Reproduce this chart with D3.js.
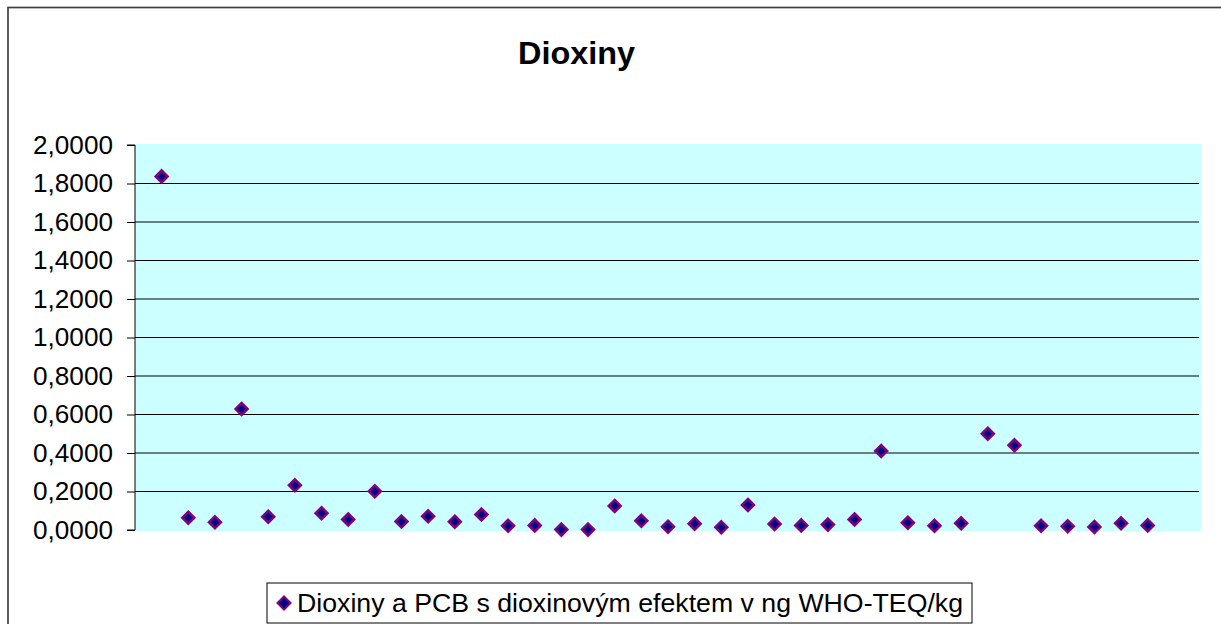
<!DOCTYPE html>
<html lang='cs'>
<head>
    <meta charset='UTF-8'>
    <title>Dioxiny</title>
    <style>
        body { margin: 0; background: #fff; }
        svg { display: block; font-family: Arial, 'Liberation Sans', sans-serif; }
    </style>
</head>
<body>
<div id="chart-area"></div>
<script src='https://d3js.org/d3.v7.min.js'></script>
<script>

    const title = 'Dioxiny';
    const seriesName = 'Dioxiny a PCB s dioxinovým efektem v ng WHO-TEQ/kg';
    // sample numbers 1..38 (x axis is hidden in the original)
    const samples = d3.range(1, 39);
    const values = [
        1.837, 0.064, 0.040, 0.629, 0.069, 0.232, 0.087, 0.055, 0.201, 0.044,
        0.071, 0.043, 0.080, 0.022, 0.024, 0.002, 0.002, 0.125, 0.048, 0.017,
        0.033, 0.014, 0.130, 0.031, 0.024, 0.028, 0.055, 0.410, 0.038, 0.022,
        0.035, 0.500, 0.440, 0.022, 0.019, 0.016, 0.035, 0.024
    ];
    const yTicks = [0, 0.2, 0.4, 0.6, 0.8, 1.0, 1.2, 1.4, 1.6, 1.8, 2.0];

    const outerWidth = 1221;
    const outerHeight = 624;
    const plot = {left: 135, right: 1201, top: 145, bottom: 530};

    const svg = d3.select('#chart-area').append('svg')
        .attr('width', outerWidth)
        .attr('height', outerHeight);

    // chart frame
    svg.append('rect')
        .attr('x', 8).attr('y', 7.5)
        .attr('width', outerWidth + 20).attr('height', outerHeight + 20)
        .attr('fill', '#fff')
        .attr('stroke', '#404040')
        .attr('stroke-width', 1.7);

    const xScale = d3.scaleLinear().domain([0, 40]).range([plot.left, plot.right]);
    const yScale = d3.scaleLinear().domain([0, 2]).range([plot.bottom, plot.top]);

    // plot area
    svg.append('rect')
        .attr('x', plot.left)
        .attr('y', plot.top - 1)
        .attr('width', plot.right - plot.left)
        .attr('height', plot.bottom - plot.top + 2)
        .attr('fill', '#ccffff');

    // gridlines (no line on top edge)
    svg.append('g')
        .selectAll('line')
        .data(yTicks.filter(d => d > 0 && d < 2))
        .join('line')
        .attr('x1', plot.left)
        .attr('x2', plot.right - 2)
        .attr('y1', d => yScale(d))
        .attr('y2', d => yScale(d))
        .attr('stroke', '#000')
        .attr('stroke-width', 1);

    const yAxis = d3.axisLeft(yScale)
        .tickValues(yTicks)
        .tickSize(8)
        .tickPadding(14)
        .tickFormat(d => d3.format('.4f')(d).replace('.', ','));

    const gy = svg.append('g')
        .attr('transform', `translate(${plot.left}, 0)`)
        .call(yAxis);
    gy.select('.domain').attr('stroke', '#000').attr('d', `M-8,${plot.top}H0V${plot.bottom}H-8`);
    gy.selectAll('text')
        .attr('fill', '#000')
        .attr('textLength', 80)
        .attr('lengthAdjust', 'spacingAndGlyphs')
        .style('font-size', '25px')
        .style('font-family', "Arial, 'Liberation Sans', sans-serif");

    const diamond = r => `M0,${-r}L${r},0L0,${r}L${-r},0Z`;

    // points
    svg.append('g')
        .selectAll('path')
        .data(samples.map((s, i) => [s, values[i]]))
        .join('path')
        .attr('transform', ([x, y]) => `translate(${xScale(x)}, ${yScale(y)})`)
        .attr('d', diamond(6))
        .attr('fill', '#000080')
        .attr('stroke', '#800080')
        .attr('stroke-width', 2.5);

    // title
    svg.append('text')
        .attr('x', 576.5)
        .attr('y', 64)
        .attr('text-anchor', 'middle')
        .attr('textLength', 117)
        .attr('lengthAdjust', 'spacingAndGlyphs')
        .style('font-size', '32px')
        .style('font-weight', 'bold')
        .text(title);

    // legend
    const legend = svg.append('g');
    legend.append('rect')
        .attr('x', 267).attr('y', 583)
        .attr('width', 705).attr('height', 40)
        .attr('fill', '#fff')
        .attr('stroke', '#000')
        .attr('stroke-width', 1);
    legend.append('path')
        .attr('transform', 'translate(284, 603)')
        .attr('d', diamond(6.5))
        .attr('fill', '#000080')
        .attr('stroke', '#800080')
        .attr('stroke-width', 2);
    legend.append('text')
        .attr('x', 297)
        .attr('y', 612)
        .attr('textLength', 666)
        .attr('lengthAdjust', 'spacingAndGlyphs')
        .style('font-size', '25px')
        .text(seriesName);

</script>
</body>
</html>
